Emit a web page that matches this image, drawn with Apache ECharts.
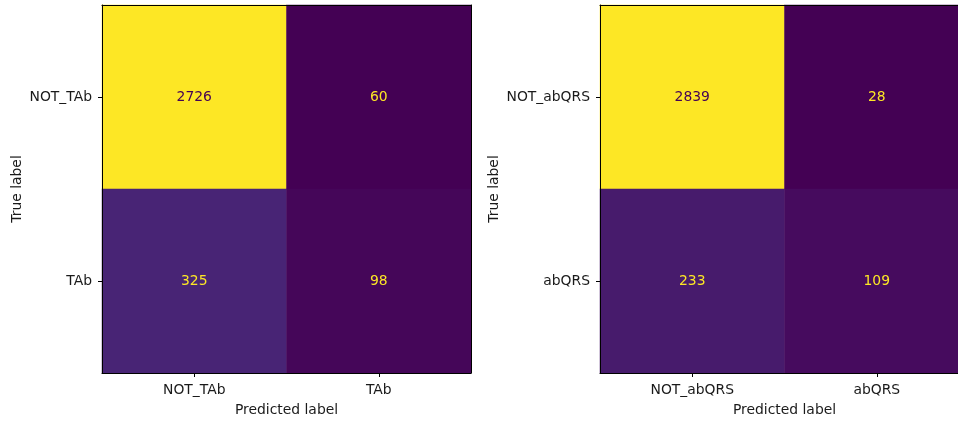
<!DOCTYPE html>
<html>
<head>
<meta charset="utf-8">
<script src="https://cdn.jsdelivr.net/npm/echarts@6/dist/echarts.min.js"></script>
<style>
  html, body { margin: 0; padding: 0; background: #fff; }
  #chart { width: 958px; height: 423px; }
</style>
</head>
<body>
<div id="chart"></div>
<script>
// Confusion matrix for the TAb classifier (rows: true, cols: predicted)
const tabLabels = ['NOT_TAb', 'TAb'];
const tabMatrix = [
  [2726, 60],
  [325, 98]
];

// Confusion matrix for the abQRS classifier
const qrsLabels = ['NOT_abQRS', 'abQRS'];
const qrsMatrix = [
  [2839, 28],
  [233, 109]
];

// viridis colormap stops
const viridis = ['#440154', '#471365', '#482475', '#463480', '#414487', '#3b528b',
  '#355f8d', '#2f6c8e', '#2a788e', '#25848e', '#21918c', '#1e9c89', '#22a884',
  '#2fb47c', '#44bf70', '#5ec962', '#7ad151', '#9bd93c', '#bddf26', '#dfe318', '#fde725'];

const FONT = 'DejaVu Sans';
const TEXT = '#1a1a1a';
const FS = 13.9;

function cells(matrix) {
  const flat = matrix.flat();
  const lo = Math.min(...flat), hi = Math.max(...flat);
  const thresh = (lo + hi) / 2;
  const out = [];
  matrix.forEach((row, r) => row.forEach((v, c) => {
    out.push({
      value: [c, r, v],
      label: { color: v < thresh ? viridis[viridis.length - 1] : viridis[0] }
    });
  }));
  return { out, lo, hi };
}

const left = cells(tabMatrix);
const right = cells(qrsMatrix);

// the second panel runs a little past the right edge of the canvas
const grids = [
  { left: 102, top: 5, width: 369, height: 368, outerBoundsMode: 'none' },
  { left: 600, top: 5, width: 369, height: 368, outerBoundsMode: 'none' }
];

function xAxes(labels, gi) {
  return [
    {
      type: 'category', gridIndex: gi, data: labels, position: 'bottom', z: 10,
      name: 'Predicted label', nameLocation: 'middle', nameGap: 30,
      nameTextStyle: { fontFamily: FONT, fontSize: FS, color: TEXT },
      axisLine: { show: true, lineStyle: { color: '#000', width: 1 } },
      axisTick: { show: true, alignWithLabel: true, length: 4, lineStyle: { color: '#000' } },
      axisLabel: { fontFamily: FONT, fontSize: FS, color: TEXT, margin: 10 },
      splitLine: { show: false }
    },
    {
      type: 'category', gridIndex: gi, data: labels, position: 'top', z: 10,
      axisLine: { show: true, lineStyle: { color: '#000', width: 1 } },
      axisTick: { show: false }, axisLabel: { show: false }, splitLine: { show: false }
    }
  ];
}

function yAxes(labels, gi, gap) {
  return [
    {
      type: 'category', gridIndex: gi, data: labels, inverse: true, position: 'left', z: 10,
      name: 'True label', nameLocation: 'middle', nameGap: gap, nameRotate: 90,
      nameTextStyle: { fontFamily: FONT, fontSize: FS, color: TEXT },
      axisLine: { show: true, lineStyle: { color: '#000', width: 1 } },
      axisTick: { show: true, alignWithLabel: true, length: 4, lineStyle: { color: '#000' } },
      axisLabel: { fontFamily: FONT, fontSize: FS, color: TEXT, margin: 10 },
      splitLine: { show: false }
    },
    {
      type: 'category', gridIndex: gi, data: labels, inverse: true, position: 'right', z: 10,
      axisLine: { show: true, lineStyle: { color: '#000', width: 1 } },
      axisTick: { show: false }, axisLabel: { show: false }, splitLine: { show: false }
    }
  ];
}

const chart = echarts.init(document.getElementById('chart'));
chart.setOption({
  backgroundColor: '#fff',
  animation: false,
  grid: grids,
  xAxis: [...xAxes(tabLabels, 0), ...xAxes(qrsLabels, 1)],
  yAxis: [...yAxes(tabLabels, 0, 78), ...yAxes(qrsLabels, 1, 99)],
  visualMap: [
    { show: false, seriesIndex: 0, min: left.lo, max: left.hi, dimension: 2, inRange: { color: viridis } },
    { show: false, seriesIndex: 1, min: right.lo, max: right.hi, dimension: 2, inRange: { color: viridis } }
  ],
  series: [
    {
      type: 'heatmap', xAxisIndex: 0, yAxisIndex: 0, data: left.out,
      itemStyle: { borderWidth: 0 },
      label: { show: true, fontFamily: FONT, fontSize: FS, formatter: p => p.value[2] },
      emphasis: { disabled: true }
    },
    {
      type: 'heatmap', xAxisIndex: 2, yAxisIndex: 2, data: right.out,
      itemStyle: { borderWidth: 0 },
      label: { show: true, fontFamily: FONT, fontSize: FS, formatter: p => p.value[2] },
      emphasis: { disabled: true }
    }
  ]
});
</script>
</body>
</html>
